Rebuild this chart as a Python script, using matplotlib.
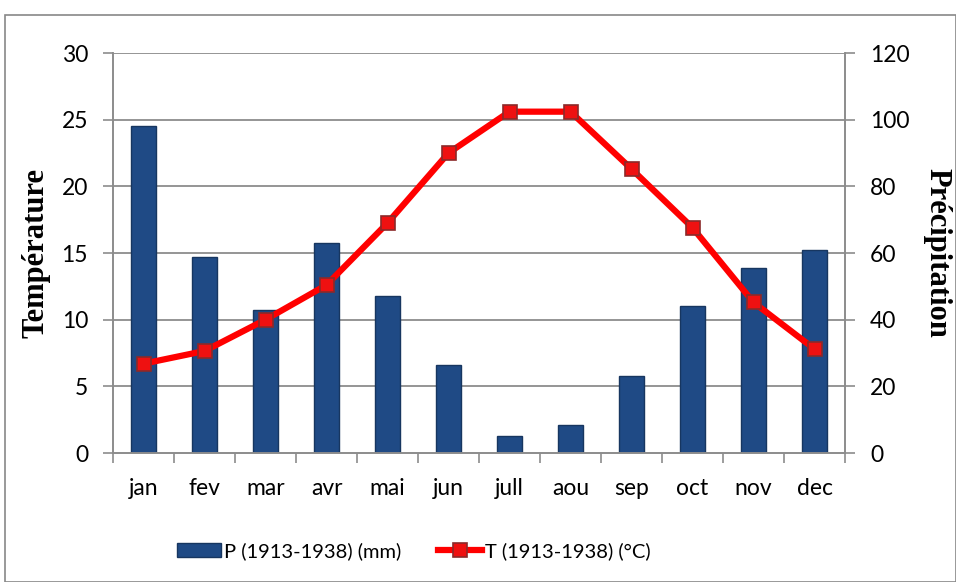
import matplotlib.pyplot as plt
from matplotlib.patches import Rectangle

months = ['jan', 'fev', 'mar', 'avr', 'mai', 'jun', 'jull', 'aou', 'sep', 'oct', 'nov', 'dec']
precip = [98, 58.8, 43, 63, 47, 26.5, 5.2, 8.4, 23, 44, 55.5, 60.8]
temp = [6.7, 7.65, 10.0, 12.6, 17.25, 22.5, 25.6, 25.6, 21.3, 16.9, 11.3, 7.8]

plt.rcParams['font.family'] = ['Lato', 'DejaVu Sans']

fig = plt.figure(figsize=(9.56, 5.82), dpi=100)
fig.patches.append(Rectangle((5 / 956, 0), 1 - 5 / 956, 1 - 15 / 582, transform=fig.transFigure,
                             fill=False, edgecolor='#888888', lw=1.2))

ax = fig.add_axes([113 / 956, 1 - 453 / 582, (845 - 113) / 956, 400 / 582])
ax2 = ax.twinx()
xs = list(range(len(months)))

bars = ax2.bar(xs, precip, width=0.4, color='#1f4a85', edgecolor='#173660', lw=1, zorder=2,
               label='P (1913-1938) (mm)')
ax2.set_ylim(0, 120)
ax2.set_yticks(range(0, 121, 20))

line, = ax.plot(xs, temp, color='#ff0000', lw=4.5, marker='s', ms=10,
                markerfacecolor='#ee1111', markeredgecolor='#8b2a2a', mew=1.2, zorder=5,
                label='T (1913-1938) (°C)')
ax.set_ylim(0, 30)
ax.set_xlim(-0.5, 11.5)
ax.set_yticks(range(0, 31, 5))
ax.set_zorder(ax2.get_zorder() + 1)
ax.patch.set_visible(False)

for y in range(5, 31, 5):
    ax2.axhline(y * 4, color='#8c8c8c', lw=1.3, zorder=0)

ax.set_xticks([i - 0.5 for i in range(13)], minor=False)
ax.set_xticklabels([])
ax.set_xticks(xs, minor=True)
ax.set_xticklabels(months, minor=True, fontsize=16.5)
ax.tick_params(axis='x', which='minor', length=0, pad=18)
ax.tick_params(axis='x', which='major', length=7, color='#8c8c8c', width=1.2)
ax.tick_params(axis='y', length=7, color='#8c8c8c', width=1.2, labelsize=16.5, pad=11)
ax2.tick_params(axis='y', length=7, color='#8c8c8c', width=1.2, labelsize=16.5, pad=11)

for a in (ax, ax2):
    a.spines['top'].set_visible(False)
    for s in ('left', 'right', 'bottom'):
        a.spines[s].set_color('#8c8c8c')
        a.spines[s].set_linewidth(1.2)

ax.set_ylabel('Température', family='Liberation Serif', fontweight='bold', fontsize=22, labelpad=8)
ax2.set_ylabel('Précipitation', family='Liberation Serif', fontweight='bold', fontsize=22,
               rotation=-90, labelpad=30)

fig.legend([bars, line], ['P (1913-1938) (mm)', 'T (1913-1938) (°C)'], loc='center',
           bbox_to_anchor=(414 / 956, 1 - 551 / 582), ncol=2, frameon=False, fontsize=14.5,
           handlelength=2.2, handleheight=0.7, columnspacing=1.8, handletextpad=0.15)

fig.savefig('out.png', dpi=100)
